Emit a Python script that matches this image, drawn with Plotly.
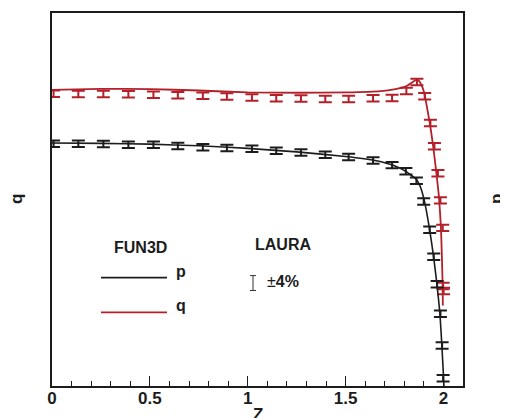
import plotly.graph_objects as go

# ---------------- data ----------------
# FUN3D solution curves
fun3d_p_z = [0, 0.25, 0.5, 0.75, 1.0, 1.25, 1.5, 1.65, 1.74, 1.81, 1.862, 1.882,
             1.903, 1.928, 1.949, 1.967, 1.982, 1.992, 2.0, 2.004]
fun3d_p = [20.1, 20.0, 19.8, 19.4, 18.8, 18.0, 17.0, 16.2, 15.3, 14.1, 12.8, 11.7,
           9.8, 7.05, 5.0, 3.5, 2.45, 1.65, 1.145, 0.93]

fun3d_q_z = [0, 0.25, 0.5, 0.75, 1.0, 1.25, 1.5, 1.68, 1.755, 1.806, 1.836, 1.857,
             1.872, 1.887, 1.903, 1.918, 1.933, 1.949, 1.964, 1.977, 1.987, 1.992,
             1.996, 1.997]
fun3d_q = [38.7, 39.2, 39.1, 38.4, 37.5, 37.35, 37.5, 38.1, 39.1, 40.3, 42.1, 43.6,
           43.6, 41.3, 37.0, 30.4, 24.7, 18.8, 13.85, 10.4, 7.2, 5.0, 3.46, 2.7]

# LAURA solution points (shown with +-4% bars)
laura_p_z = [0.008, 0.1345, 0.2624, 0.3903, 0.5182, 0.643, 0.7708, 0.8936, 1.0215,
             1.1458, 1.272, 1.3964, 1.5156, 1.6404, 1.7376, 1.8082, 1.8619, 1.8992,
             1.9299, 1.9504, 1.9678, 1.9847, 1.9933, 1.9984]
laura_p = [19.9, 19.9, 19.85, 19.7, 19.7, 19.36, 19.1, 18.9, 18.7, 18.25, 17.9, 17.4,
           16.9, 16.2, 15.3, 14.2, 12.6, 9.76, 6.88, 4.94, 3.51, 2.44, 1.65, 1.10]

laura_q_z = [0.008, 0.1345, 0.2624, 0.3903, 0.5182, 0.643, 0.7708, 0.8936, 1.0215,
             1.1458, 1.272, 1.3964, 1.5156, 1.6404, 1.7376, 1.8107, 1.8645, 1.9043,
             1.9335, 1.954, 1.9719, 1.9847, 1.9964, 1.9984, 2.001]
laura_q = [36.9, 36.85, 36.85, 36.75, 36.5, 36.3, 36.0, 35.65, 35.3, 34.9, 34.8, 34.65,
           34.65, 34.9, 35.0, 38.2, 42.7, 35.8, 25.7, 19.3, 13.85, 9.9, 7.05, 3.44, 3.23]

laura_error_pct = 4

x_tick_vals = [0, 0.5, 1, 1.5, 2]
x_tick_text = ["0", "0.5", "1", "1.5", "2"]

# ---------------- style ----------------
BLACK = "#1c1c1c"
RED = "#b3202a"
FONT = "Liberation Sans"

fig = go.Figure()

fig.add_trace(go.Scatter(x=fun3d_p_z, y=fun3d_p, mode="lines", yaxis="y2",
                         line=dict(color=BLACK, width=1.6, shape="spline", smoothing=0.4),
                         showlegend=False))
fig.add_trace(go.Scatter(x=fun3d_q_z, y=fun3d_q, mode="lines",
                         line=dict(color=RED, width=1.8, shape="spline", smoothing=0.4),
                         showlegend=False))
fig.add_trace(go.Scatter(x=laura_p_z, y=laura_p, mode="markers", yaxis="y2",
                         marker=dict(size=1, opacity=0),
                         error_y=dict(type="percent", value=laura_error_pct, color=BLACK,
                                      thickness=2, width=6.5),
                         showlegend=False))
fig.add_trace(go.Scatter(x=laura_q_z, y=laura_q, mode="markers",
                         marker=dict(size=1, opacity=0),
                         error_y=dict(type="percent", value=laura_error_pct, color=RED,
                                      thickness=2, width=6.5),
                         showlegend=False))

# plot-area edges in page pixels (the page body adds an 8 px offset)
OFF = 8
L, R, T, B = 52, 463, 11, 386
W, H = R - L, B - T


def px(x):
    return (x - L) / W


def py(y):
    return (B - y) / H


annotations = [
    dict(text="<b>FUN3D</b>", x=px(140), y=py(247), font=dict(size=16)),
    dict(text="<b>p</b>", x=px(181), y=py(271), font=dict(size=16)),
    dict(text="<b>q</b>", x=px(181), y=py(305), font=dict(size=16)),
    dict(text="<b>LAURA</b>", x=px(283), y=py(244), font=dict(size=16)),
    dict(text="±<b>4%</b>", x=px(265), y=py(281), xanchor="left", font=dict(size=16)),
    dict(text="<b>q</b>", x=px(16), y=py(198), textangle=-90, font=dict(size=17)),
    dict(text="<b>p</b>", x=px(496), y=py(198), textangle=-90, font=dict(size=17)),
    dict(text="<b>Z</b>", x=px(257.5), y=py(415), font=dict(size=17)),
]
for a in annotations:
    a.update(xref="paper", yref="paper", showarrow=False)
    a.setdefault("xanchor", "center")
    a["yanchor"] = "middle"
    a["font"].update(family=FONT, color=BLACK)

shapes = [
    dict(type="line", x0=px(101), x1=px(167), y0=py(277), y1=py(277),
         line=dict(color=BLACK, width=1.6)),
    dict(type="line", x0=px(101), x1=px(167), y0=py(312), y1=py(312),
         line=dict(color=RED, width=1.8)),
    # +-4% bar glyph
    dict(type="line", x0=px(253), x1=px(253), y0=py(275), y1=py(290),
         line=dict(color="#333333", width=1)),
    dict(type="line", x0=px(250), x1=px(256), y0=py(275), y1=py(275),
         line=dict(color="#333333", width=1)),
    dict(type="line", x0=px(250), x1=px(256), y0=py(290), y1=py(290),
         line=dict(color="#333333", width=1)),
]
for s in shapes:
    s.update(xref="paper", yref="paper")

fig.update_layout(
    width=508, height=418,
    margin=dict(l=L - OFF, r=508 - (R - OFF), t=T - OFF, b=418 - (B - OFF)),
    paper_bgcolor="white", plot_bgcolor="white",
    font=dict(family=FONT, color=BLACK),
    showlegend=False,
    annotations=annotations,
    shapes=shapes,
    xaxis=dict(range=[0, 2.1], tickvals=x_tick_vals, ticktext=x_tick_text,
               ticks="inside", ticklen=10, tickwidth=1.3, tickcolor=BLACK,
               ticklabelstandoff=-4,
               minor=dict(ticks="inside", dtick=0.1, ticklen=5, tickwidth=1.1,
                          tickcolor=BLACK, showgrid=False),
               tickfont=dict(size=17, family=FONT, color=BLACK, weight="bold"),
               showline=True, linecolor=BLACK, linewidth=2, mirror=True,
               showgrid=False, zeroline=False),
    yaxis=dict(type="log", range=[0, 2], showticklabels=False, ticks="",
               showline=True, linecolor=BLACK, linewidth=2, mirror=True,
               showgrid=False, zeroline=False),
    yaxis2=dict(type="log", range=[0, 2], overlaying="y", side="right",
                showticklabels=False, ticks="", showline=False,
                showgrid=False, zeroline=False),
)

fig.write_html("out.html")
